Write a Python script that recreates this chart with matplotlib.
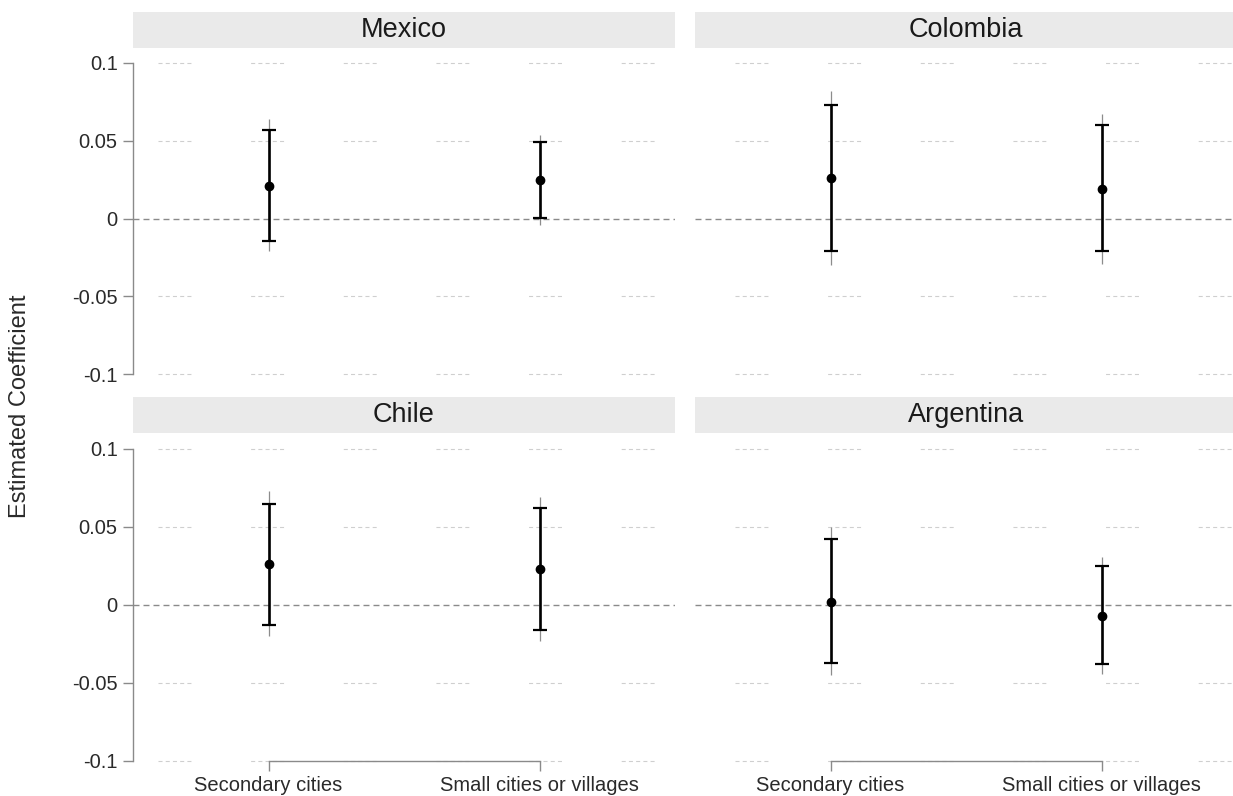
import matplotlib
matplotlib.use("Agg")
import matplotlib.pyplot as plt
from matplotlib.patches import Rectangle

plt.rcParams['font.family'] = ['Liberation Sans', 'DejaVu Sans']
plt.rcParams['lines.scale_dashes'] = False

countries = ['Mexico', 'Colombia', 'Chile', 'Argentina']
categories = ['Secondary cities', 'Small cities or villages']
yticks = [-0.1, -0.05, 0, 0.05, 0.1]
ytick_labels = ['-0.1', '-0.05', '0', '0.05', '0.1']

coef = [[0.021, 0.025], [0.026, 0.019], [0.026, 0.023], [0.002, -0.007]]
ci90_lo = [[-0.0145, 0.0005], [-0.021, -0.021], [-0.013, -0.016], [-0.037, -0.038]]
ci90_hi = [[0.057, 0.0495], [0.073, 0.060], [0.065, 0.062], [0.042, 0.025]]
ci95_lo = [[-0.021, -0.004], [-0.030, -0.029], [-0.020, -0.023], [-0.045, -0.044]]
ci95_hi = [[0.064, 0.054], [0.082, 0.067], [0.073, 0.069], [0.050, 0.031]]

W, H = 1233, 796
fig = plt.figure(figsize=(W / 100, H / 100), dpi=100)

def fx(px):
    return px / W

def fy(py):
    return 1 - py / H

col_left = [133, 695]
panel_w = 542
row_top = [63, 449]
row_bot = [374, 761]
head_top = [12, 397]
head_h = 36
grid_offset = [48.7, 37.9]

xs = [1, 2]
for i, country in enumerate(countries):
    r, c = divmod(i, 2)
    ax = fig.add_axes([fx(col_left[c]), fy(row_bot[r]), fx(panel_w),
                       (row_bot[r] - row_top[r]) / H])
    ax.set_xlim(0.5, 2.5)
    ax.set_ylim(-0.1, 0.1)
    ax.set_facecolor('none')
    # header strip
    fig.patches.append(Rectangle((fx(col_left[c]), fy(head_top[r] + head_h)),
                                 fx(panel_w), head_h / H, transform=fig.transFigure,
                                 facecolor='#eaeaea', edgecolor='none', zorder=0))
    fig.text(fx(col_left[c] + panel_w / 2), fy(head_top[r] + head_h / 2), country,
             ha='center', va='center', fontsize=19.5, color='#1a1a1a')
    # gridlines
    for yv in [0.1, 0.05, -0.05, -0.1]:
        ax.axhline(yv, color='#cfcfcf', lw=0.8,
                   linestyle=(grid_offset[c], (2.9, 2.3, 2.9, 2.3, 2.9, 2.3, 2.9, 2.3, 2.9, 43)),
                   zorder=1, clip_on=False)
    ax.axhline(0, color='#8a8a8a', lw=1.0, linestyle=(0, (4.3, 2.9)), zorder=2)
    # 95% CI thin
    ax.vlines(xs, ci95_lo[i], ci95_hi[i], color='#8c8c8c', lw=0.9, zorder=3)
    # 90% CI thick with caps
    for k in range(2):
        lo, hi = ci90_lo[i][k], ci90_hi[i][k]
        ax.errorbar([xs[k]], [coef[i][k]], yerr=[[coef[i][k] - lo], [hi - coef[i][k]]],
                    fmt='o', color='black', ms=6, elinewidth=1.9, capsize=5,
                    capthick=1.6, zorder=4)
    for s in ['top', 'right']:
        ax.spines[s].set_visible(False)
    if c == 0:
        ax.spines['left'].set_bounds(-0.1, 0.1)
        ax.spines['left'].set_color('#8a8a8a')
        ax.spines['left'].set_linewidth(1.0)
        ax.set_yticks(yticks)
        ax.set_yticklabels(ytick_labels)
        ax.tick_params(axis='y', length=7, width=1.0, color='#8a8a8a', pad=4,
                       labelsize=14.5, labelcolor='#2a2a2a')
    else:
        ax.spines['left'].set_visible(False)
        ax.set_yticks([])
    if r == 1:
        ax.spines['bottom'].set_bounds(1, 2)
        ax.spines['bottom'].set_color('#8a8a8a')
        ax.spines['bottom'].set_linewidth(1.0)
        ax.set_xticks(xs)
        ax.set_xticklabels(categories)
        ax.tick_params(axis='x', length=7, width=1.0, color='#8a8a8a', pad=4,
                       labelsize=14.5, labelcolor='#2a2a2a')
    else:
        ax.spines['bottom'].set_visible(False)
        ax.set_xticks([])

fig.text(fx(20), fy(406), 'Estimated Coefficient', rotation=90, ha='center',
         va='center', fontsize=17, color='#2a2a2a')

fig.savefig('out.png', dpi=100)
